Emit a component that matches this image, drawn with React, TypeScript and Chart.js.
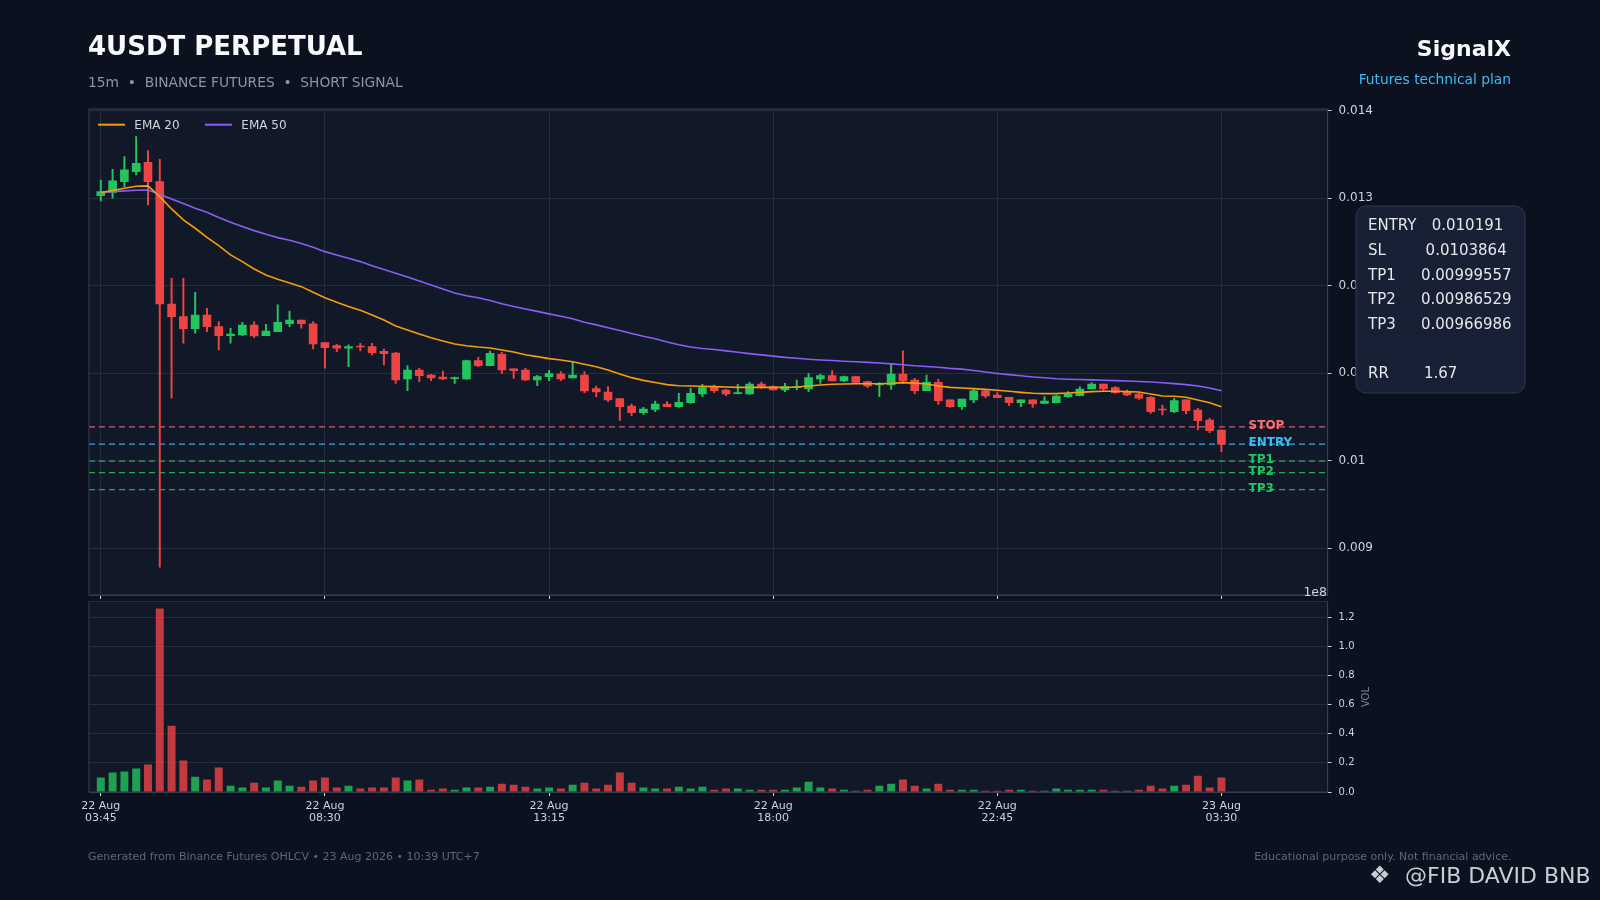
import React, { useEffect, useRef } from 'react';
import { Chart, registerables } from 'chart.js';

Chart.register(...registerables);

const FONT = '"DejaVu Sans", sans-serif';
Chart.defaults.font.family = FONT;

// colours
const BG = '#0b111e';
const FACE = '#111827';
const GRID = '#232d3d';
const SPINE = '#334155';
const TICK = '#cbd5e1';
const UP = '#22c55e';
const DOWN = '#ef4444';
const UP_VOL = 'rgba(34,197,94,0.8)';
const DOWN_VOL = 'rgba(239,68,68,0.8)';
const ORANGE = '#f59e0b';
const PURPLE = '#8b5cf6';

// axes
const xMin = -1;
const xMax = 104;
const xTicks = [0, 19, 38, 57, 76, 95];
const xTickLabels = [
  ['22 Aug', '03:45'],
  ['22 Aug', '08:30'],
  ['22 Aug', '13:15'],
  ['22 Aug', '18:00'],
  ['22 Aug', '22:45'],
  ['23 Aug', '03:30'],
];
const priceMin = 0.008466;
const priceMax = 0.01402;
const priceTicks = [0.009, 0.01, 0.011, 0.012, 0.013, 0.014];
const priceTickLabels = ['0.009', '0.01', '0.011', '0.012', '0.013', '0.014'];
const volMax = 1.312;
const volTicks = [0, 0.2, 0.4, 0.6, 0.8, 1.0, 1.2];
const volTickLabels = ['0.0', '0.2', '0.4', '0.6', '0.8', '1.0', '1.2'];

// 15m candles, 22 Aug 03:45 -> 23 Aug 03:30
const opens = [
  0.01303, 0.013068, 0.01319, 0.013305, 0.013411, 0.01319, 0.011792, 0.011647, 0.01151, 0.011666, 0.011533, 0.01143,
  0.011438, 0.011552, 0.01143, 0.011476, 0.011567, 0.011609, 0.011564, 0.01135, 0.011316, 0.011286, 0.01131, 0.011305,
  0.011251, 0.011232, 0.010934, 0.011037, 0.01098, 0.010957, 0.010938, 0.010934, 0.011144, 0.011087, 0.011216, 0.011052,
  0.011037, 0.010923, 0.010961, 0.010991, 0.010946, 0.01098, 0.010824, 0.010786, 0.01071, 0.010626, 0.01055, 0.010588,
  0.010649, 0.010618, 0.010664, 0.010763, 0.010847, 0.010809, 0.010767, 0.010763, 0.010877, 0.010847, 0.010809, 0.010836,
  0.01082, 0.010934, 0.010973, 0.010912, 0.010961, 0.010904, 0.010866, 0.010866, 0.010992, 0.010923, 0.0108, 0.010897,
  0.010695, 0.010618, 0.010695, 0.0108, 0.010752, 0.010725, 0.010664, 0.010695, 0.010656, 0.010664, 0.010733, 0.010744,
  0.01082, 0.010877, 0.010836, 0.01079, 0.010763, 0.010725, 0.010584, 0.010561, 0.010695, 0.01058, 0.010466, 0.010352,
];
const highs = [
  0.013209, 0.013331, 0.013476, 0.013705, 0.013545, 0.013446, 0.012085, 0.012085, 0.011925, 0.011743, 0.01159, 0.011514,
  0.011583, 0.01159, 0.01156, 0.011781, 0.011712, 0.011609, 0.01159, 0.01135, 0.011331, 0.011324, 0.011343, 0.011343,
  0.011277, 0.01124, 0.011087, 0.011056, 0.010988, 0.011026, 0.010957, 0.011152, 0.011182, 0.011254, 0.01124, 0.011052,
  0.011056, 0.010976, 0.011033, 0.011018, 0.011132, 0.011018, 0.010854, 0.010847, 0.01071, 0.010649, 0.010611, 0.010683,
  0.010676, 0.010771, 0.010828, 0.010874, 0.010866, 0.010816, 0.010874, 0.010896, 0.0109, 0.010855, 0.010885, 0.010923,
  0.011, 0.010992, 0.01103, 0.010969, 0.010969, 0.010912, 0.010893, 0.011106, 0.011255, 0.010942, 0.01098, 0.010931,
  0.010695, 0.010706, 0.01082, 0.010809, 0.010778, 0.010725, 0.010695, 0.010695, 0.010733, 0.010752, 0.01079, 0.010847,
  0.010893, 0.010877, 0.010847, 0.010809, 0.010778, 0.010733, 0.010637, 0.010714, 0.010695, 0.010599, 0.010485, 0.010352,
];
const lows = [
  0.012969, 0.013, 0.013133, 0.013267, 0.012924, 0.008783, 0.010714, 0.011343, 0.011457, 0.011476, 0.011266, 0.011343,
  0.01143, 0.011407, 0.01143, 0.011476, 0.011533, 0.011514, 0.011278, 0.011057, 0.011247, 0.011076, 0.011255, 0.011209,
  0.011094, 0.010885, 0.010801, 0.010904, 0.010915, 0.010927, 0.010885, 0.01093, 0.011075, 0.011083, 0.010999, 0.010942,
  0.010915, 0.010858, 0.010915, 0.010915, 0.010946, 0.010778, 0.010732, 0.010675, 0.010462, 0.010515, 0.010531, 0.010561,
  0.010618, 0.01061, 0.010656, 0.010733, 0.010778, 0.010744, 0.010763, 0.010759, 0.010828, 0.010809, 0.01079, 0.010809,
  0.01079, 0.010885, 0.010912, 0.010904, 0.010885, 0.010835, 0.010733, 0.010816, 0.010885, 0.010763, 0.0108, 0.010645,
  0.010611, 0.010588, 0.010664, 0.010721, 0.010721, 0.01063, 0.010618, 0.010611, 0.010656, 0.010664, 0.010725, 0.01074,
  0.01082, 0.0108, 0.010771, 0.010744, 0.010702, 0.010542, 0.010523, 0.01055, 0.010535, 0.010352, 0.010321, 0.010104,
];
const closes = [
  0.013076, 0.013198, 0.013324, 0.0134, 0.01319, 0.011792, 0.011647, 0.01151, 0.011666, 0.011533, 0.01143, 0.011449,
  0.011552, 0.011426, 0.011483, 0.011583, 0.011609, 0.011567, 0.011335, 0.011293, 0.011286, 0.011305, 0.0113, 0.011236,
  0.011224, 0.010923, 0.011037, 0.010972, 0.010946, 0.010934, 0.010949, 0.011144, 0.011087, 0.011228, 0.011037, 0.011029,
  0.010923, 0.010961, 0.010995, 0.010934, 0.01098, 0.010797, 0.010786, 0.010694, 0.010618, 0.01055, 0.010592, 0.010649,
  0.010618, 0.010668, 0.010771, 0.010836, 0.010801, 0.010763, 0.010778, 0.010877, 0.010836, 0.010809, 0.010847, 0.010847,
  0.01095, 0.010973, 0.010912, 0.010961, 0.010896, 0.010854, 0.010885, 0.010992, 0.010912, 0.0108, 0.010897, 0.010687,
  0.010618, 0.010706, 0.0108, 0.01074, 0.010721, 0.010664, 0.010695, 0.010649, 0.010683, 0.01074, 0.010763, 0.01082,
  0.010877, 0.01082, 0.010778, 0.010752, 0.010714, 0.010561, 0.01058, 0.010687, 0.010573, 0.010458, 0.010344, 0.010191,
];
// volume, units of 1e8
const volumes = [
  0.097, 0.131, 0.138, 0.159, 0.186, 1.258, 0.452, 0.214, 0.103, 0.083, 0.166, 0.041,
  0.028, 0.062, 0.028, 0.076, 0.041, 0.034, 0.076, 0.097, 0.028, 0.041, 0.021, 0.028,
  0.028, 0.097, 0.076, 0.083, 0.014, 0.021, 0.014, 0.028, 0.028, 0.034, 0.055, 0.048,
  0.034, 0.021, 0.028, 0.021, 0.048, 0.062, 0.021, 0.048, 0.131, 0.062, 0.028, 0.021,
  0.021, 0.034, 0.021, 0.034, 0.014, 0.021, 0.021, 0.014, 0.014, 0.014, 0.014, 0.028,
  0.069, 0.028, 0.021, 0.014, 0.007, 0.014, 0.041, 0.055, 0.083, 0.041, 0.021, 0.055,
  0.014, 0.014, 0.014, 0.007, 0.007, 0.014, 0.014, 0.007, 0.007, 0.021, 0.014, 0.014,
  0.014, 0.014, 0.007, 0.007, 0.014, 0.041, 0.021, 0.041, 0.048, 0.11, 0.028, 0.097,
];
const ema20 = [
  0.013065, 0.013087, 0.013114, 0.013137, 0.013141, 0.013019, 0.012878, 0.012752, 0.012657, 0.012554, 0.012459, 0.012352,
  0.012276, 0.012192, 0.012124, 0.012074, 0.012032, 0.01199, 0.011925, 0.011864, 0.011811, 0.011762, 0.01172, 0.011666,
  0.011609, 0.01154, 0.011494, 0.011449, 0.011407, 0.011369, 0.011334, 0.011315, 0.0113, 0.011289, 0.011266, 0.011243,
  0.011212, 0.01119, 0.011167, 0.011152, 0.011132, 0.011102, 0.011075, 0.011037, 0.010992, 0.01095, 0.010919, 0.010895,
  0.01087, 0.010858, 0.010855, 0.010851, 0.010847, 0.010843, 0.010839, 0.010839, 0.010839, 0.010839, 0.010839, 0.010843,
  0.010855, 0.010866, 0.010874, 0.010877, 0.010881, 0.010881, 0.010881, 0.010885, 0.010893, 0.010887, 0.010877, 0.010855,
  0.010839, 0.010832, 0.010824, 0.010816, 0.010805, 0.010794, 0.010782, 0.010771, 0.010767, 0.010767, 0.010775, 0.010782,
  0.01079, 0.010794, 0.010794, 0.01079, 0.010786, 0.010763, 0.01074, 0.010737, 0.010725, 0.010695, 0.010664, 0.010618,
];
const ema50 = [
  0.013065, 0.013076, 0.013084, 0.013091, 0.013095, 0.013046, 0.012992, 0.012939, 0.012886, 0.01284, 0.012779, 0.012726,
  0.012676, 0.01263, 0.012588, 0.01255, 0.01252, 0.012482, 0.01244, 0.01239, 0.012352, 0.012314, 0.012276, 0.01223,
  0.012186, 0.012142, 0.012099, 0.012055, 0.01201, 0.011963, 0.011918, 0.011885, 0.011862, 0.011832, 0.011795, 0.011762,
  0.011735, 0.011707, 0.011679, 0.011652, 0.011622, 0.011584, 0.011553, 0.01152, 0.011488, 0.011455, 0.011422, 0.011394,
  0.011358, 0.011326, 0.0113, 0.011283, 0.011272, 0.011256, 0.01124, 0.011224, 0.01121, 0.011196, 0.011182, 0.011171,
  0.011161, 0.011152, 0.011145, 0.011138, 0.011131, 0.011124, 0.011117, 0.011107, 0.011097, 0.011086, 0.011078, 0.011068,
  0.011056, 0.011047, 0.011032, 0.011015, 0.010998, 0.010984, 0.010971, 0.010958, 0.010948, 0.010938, 0.010932, 0.010928,
  0.010924, 0.01092, 0.010916, 0.010912, 0.010906, 0.0109, 0.010892, 0.010882, 0.01087, 0.010855, 0.010832, 0.010801,
];

// trade plan levels
const levelNames = ['STOP', 'ENTRY', 'TP1', 'TP2', 'TP3'];
const levelValues = [0.0103864, 0.010191, 0.00999557, 0.00986529, 0.00966986];
const levelTextColors = ['#f87171', '#38bdf8', '#22c55e', '#22c55e', '#22c55e'];
const levelLineColors = ['rgba(240,110,120,0.85)', 'rgba(56,189,248,0.9)', 'rgba(34,197,94,0.85)', 'rgba(34,197,94,0.85)', 'rgba(34,197,94,0.85)'];
const levelLabelX = 97.3;

const planLabels = ['ENTRY', 'SL', 'TP1', 'TP2', 'TP3'];
const planValues = ['0.010191', '0.0103864', '0.00999557', '0.00986529', '0.00966986'];
const riskReward = '1.67';

const idx = closes.map((_, i) => i);
const upFlags = idx.map((i) => closes[i] >= opens[i]);

// chart.js pads the chart area for edge labels; we want fixed axes boxes
const noPad = (s: any) => {
  s.paddingTop = 0;
  s.paddingBottom = 0;
  s.paddingLeft = 0;
  s.paddingRight = 0;
};

const framePlugin = {
  id: 'frame',
  beforeDraw(chart: any) {
    const { ctx, chartArea: a } = chart;
    ctx.save();
    ctx.fillStyle = FACE;
    ctx.fillRect(a.left, a.top, a.right - a.left, a.bottom - a.top);
    ctx.restore();
  },
  afterDraw(chart: any) {
    const { ctx, chartArea: a } = chart;
    ctx.save();
    ctx.strokeStyle = SPINE;
    ctx.lineWidth = 1;
    ctx.strokeRect(a.left, a.top, a.right - a.left, a.bottom - a.top);
    ctx.restore();
  },
};

const levelLabelPlugin = {
  id: 'levelLabels',
  afterDatasetsDraw(chart: any) {
    const { ctx, scales } = chart;
    ctx.save();
    ctx.font = `bold 12px ${FONT}`;
    ctx.textBaseline = 'middle';
    ctx.textAlign = 'left';
    levelValues.forEach((v, k) => {
      ctx.fillStyle = levelTextColors[k];
      ctx.fillText(levelNames[k], scales.x.getPixelForValue(levelLabelX), scales.y.getPixelForValue(v) - 1);
    });
    ctx.restore();
  },
};

function PriceChart() {
  const ref = useRef<HTMLCanvasElement | null>(null);

  useEffect(() => {
    const canvas = ref.current;
    if (!canvas) return;
    const colors = upFlags.map((u) => (u ? UP : DOWN));
    const chart = new Chart(canvas, {
      type: 'bar',
      data: {
        datasets: [
          {
            type: 'line',
            label: 'EMA 20',
            data: ema20.map((v, i) => ({ x: i, y: v })),
            borderColor: ORANGE,
            borderWidth: 1.6,
            pointRadius: 0,
            order: 0,
          },
          {
            type: 'line',
            label: 'EMA 50',
            data: ema50.map((v, i) => ({ x: i, y: v })),
            borderColor: PURPLE,
            borderWidth: 1.6,
            pointRadius: 0,
            order: 0,
          },
          {
            type: 'bar',
            label: 'body',
            data: idx.map((i) => ({ x: i, y: [opens[i], closes[i]] })),
            backgroundColor: colors,
            barThickness: 8,
            minBarLength: 1,
            grouped: false,
            borderWidth: 0,
            order: 1,
          },
          {
            type: 'bar',
            label: 'wick',
            data: idx.map((i) => ({ x: i, y: [lows[i], highs[i]] })),
            backgroundColor: colors,
            barThickness: 1.3,
            grouped: false,
            borderWidth: 0,
            order: 2,
          },
          ...levelValues.map((v, k) => ({
            type: 'line',
            label: levelNames[k],
            data: [
              { x: xMin, y: v },
              { x: xMax, y: v },
            ],
            borderColor: levelLineColors[k],
            borderWidth: 1.2,
            borderDash: [6, 4],
            pointRadius: 0,
            order: 3,
          })),
        ],
      } as any,
      options: {
        responsive: true,
        maintainAspectRatio: false,
        animation: false,
        devicePixelRatio: 1,
        events: [],
        layout: { padding: { left: 89, right: 212.4, top: 109, bottom: 0 } },
        plugins: { legend: { display: false }, tooltip: { enabled: false } },
        scales: {
          x: {
            type: 'linear',
            min: xMin,
            max: xMax,
            offset: false,
            grid: { color: GRID, offset: false, drawTicks: true, tickLength: 4, tickColor: TICK },
            border: { display: true, color: SPINE },
            ticks: { display: false },
            afterBuildTicks: (s: any) => {
              s.ticks = xTicks.map((v) => ({ value: v }));
            },
            afterFit: (s: any) => {
              s.height = 6;
              noPad(s);
            },
          },
          y: {
            position: 'right',
            min: priceMin,
            max: priceMax,
            grid: { color: GRID, tickLength: 4, tickColor: TICK },
            border: { display: true, color: SPINE },
            ticks: {
              color: TICK,
              font: { size: 12 },
              padding: 7,
              callback: (_v: any, i: number) => priceTickLabels[i],
            },
            afterBuildTicks: (s: any) => {
              s.ticks = priceTicks.map((v) => ({ value: v }));
            },
            afterFit: (s: any) => {
              s.width = 60;
              noPad(s);
            },
          },
        },
      } as any,
      plugins: [framePlugin, levelLabelPlugin],
    });
    return () => chart.destroy();
  }, []);

  return <canvas ref={ref} />;
}

function VolumeChart() {
  const ref = useRef<HTMLCanvasElement | null>(null);

  useEffect(() => {
    const canvas = ref.current;
    if (!canvas) return;
    const chart = new Chart(canvas, {
      type: 'bar',
      data: {
        datasets: [
          {
            label: 'VOL',
            data: idx.map((i) => ({ x: i, y: volumes[i] })),
            backgroundColor: upFlags.map((u) => (u ? UP_VOL : DOWN_VOL)),
            barThickness: 7.3,
            grouped: false,
            borderWidth: 0,
          },
        ],
      } as any,
      options: {
        responsive: true,
        maintainAspectRatio: false,
        animation: false,
        devicePixelRatio: 1,
        events: [],
        layout: { padding: { left: 89, right: 212.4, top: 0, bottom: 0 } },
        plugins: { legend: { display: false }, tooltip: { enabled: false } },
        scales: {
          x: {
            type: 'linear',
            min: xMin,
            max: xMax,
            offset: false,
            grid: { color: 'rgba(0,0,0,0)', offset: false, drawTicks: true, tickLength: 4, tickColor: TICK },
            border: { display: true, color: SPINE },
            ticks: {
              color: TICK,
              font: { size: 11, lineHeight: 1.1 },
              padding: 4,
              maxRotation: 0,
              autoSkip: false,
              callback: (_v: any, i: number) => xTickLabels[i],
            },
            afterBuildTicks: (s: any) => {
              s.ticks = xTicks.map((v) => ({ value: v }));
            },
            afterFit: (s: any) => {
              s.height = 48;
              noPad(s);
            },
          },
          y: {
            position: 'right',
            min: 0,
            max: volMax,
            grid: { color: GRID, tickLength: 4, tickColor: TICK },
            border: { display: true, color: SPINE },
            ticks: {
              color: TICK,
              font: { size: 10 },
              padding: 7,
              callback: (_v: any, i: number) => volTickLabels[i],
            },
            afterBuildTicks: (s: any) => {
              s.ticks = volTicks.map((v) => ({ value: v }));
            },
            afterFit: (s: any) => {
              s.width = 60;
              noPad(s);
            },
          },
        },
      } as any,
      plugins: [framePlugin],
    });
    return () => chart.destroy();
  }, []);

  return <canvas ref={ref} />;
}

export default function App() {
  const rowBaselines = [229.8, 254.8, 279.5, 304.2, 328.8];
  const valueX = [1431.7, 1425.6, 1421, 1421, 1421];
  return (
    <div
      style={{
        position: 'fixed',
        left: 0,
        top: 0,
        width: 1600,
        height: 900,
        background: BG,
        overflow: 'hidden',
        fontFamily: FONT,
      }}
    >
      <div style={{ position: 'absolute', left: 0, top: 0, width: 1600, height: 601 }}>
        <PriceChart />
      </div>
      <div style={{ position: 'absolute', left: 0, top: 601, width: 1600, height: 239 }}>
        <VolumeChart />
      </div>
      <svg
        width={1600}
        height={900}
        style={{ position: 'absolute', left: 0, top: 0, pointerEvents: 'none' }}
        fontFamily={FONT}
      >
        <text x={88} y={55} fontSize={26} fontWeight="bold" fill="#f8fafc">
          4USDT PERPETUAL
        </text>
        <text x={88} y={86.5} fontSize={13.8} fill="#8b95a7" xmlSpace="preserve">
          15m  •  BINANCE FUTURES  •  SHORT SIGNAL
        </text>
        <text x={1511} y={55.5} fontSize={22} fontWeight="bold" fill="#f8fafc" textAnchor="end">
          SignalX
        </text>
        <text x={1511} y={83.5} fontSize={13.8} fill="#38bdf8" textAnchor="end">
          Futures technical plan
        </text>

        {/* legend */}
        <line x1={98} y1={124.7} x2={125} y2={124.7} stroke={ORANGE} strokeWidth={2} />
        <text x={134.3} y={129} fontSize={12} fill="#d1d5db">
          EMA 20
        </text>
        <line x1={205} y1={124.7} x2={232} y2={124.7} stroke={PURPLE} strokeWidth={2} />
        <text x={241.3} y={129} fontSize={12} fill="#d1d5db">
          EMA 50
        </text>

        {/* plan box */}
        <rect x={1356} y={206} width={169} height={187} rx={10} ry={10} fill="#172034" stroke="#2c3a50" strokeWidth={1} />
        {planLabels.map((l, k) => (
          <g key={l}>
            <text x={1368} y={rowBaselines[k]} fontSize={15} fill="#e5e7eb">
              {l}
            </text>
            <text x={valueX[k]} y={rowBaselines[k]} fontSize={15} fill="#e5e7eb">
              {planValues[k]}
            </text>
          </g>
        ))}
        <text x={1368} y={378.2} fontSize={15} fill="#e5e7eb">
          RR
        </text>
        <text x={1424} y={378.2} fontSize={15} fill="#e5e7eb">
          {riskReward}
        </text>

        <text x={1327} y={596} fontSize={12.5} fill={TICK} textAnchor="end">
          1e8
        </text>
        <text x={1368.5} y={697} fontSize={10} fill="#7b8597" textAnchor="middle" transform="rotate(-90 1368.5 697)">
          VOL
        </text>

        <text x={88} y={859.5} fontSize={11} fill="#5d6778">
          Generated from Binance Futures OHLCV • 23 Aug 2026 • 10:39 UTC+7
        </text>
        <text x={1511.5} y={859.5} fontSize={11} fill="#5d6778" textAnchor="end">
          Educational purpose only. Not financial advice.
        </text>
        <text x={1369} y={883} fontSize={24} fill="#c9ced6">
          ❖
        </text>
        <text x={1405} y={883} fontSize={22} fill="#c9ced6">
          @FIB DAVID BNB
        </text>
      </svg>
    </div>
  );
}
